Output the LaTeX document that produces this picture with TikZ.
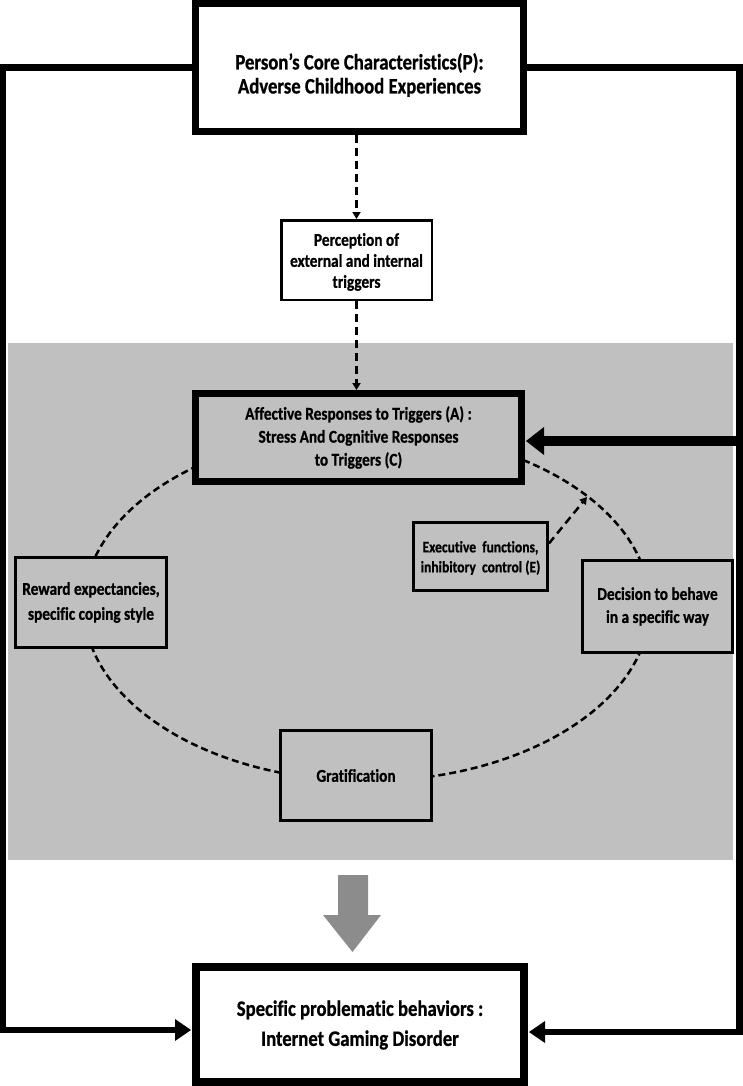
\documentclass[tikz,border=0pt]{standalone}
\usepackage{fontspec}
\newfontfamily\cfont{Carlito}[FakeStretch=0.85, Ligatures=NoCommon, BoldFeatures={FakeBold=0.8}]
\usetikzlibrary{arrows.meta}
\definecolor{bggray}{HTML}{C0C0C0}
\definecolor{arrgray}{HTML}{8C8C8C}
\begin{document}
\begin{tikzpicture}[x=1pt,y=-1pt,
  thickbox/.style={draw, line width=7pt, fill=white, inner sep=0pt},
  thinbox/.style={draw, line width=2.8pt, fill=bggray, inner sep=0pt},
  txt/.style={font=\cfont\bfseries, align=center, inner sep=0pt},
  conn/.style={line width=6.5pt, line join=miter},
  dasharrow/.style={line width=2.5pt, dash pattern=on 8pt off 5pt, -{Triangle[length=7pt,width=8pt]}},
  ellline/.style={line width=2.5pt, dash pattern=on 7pt off 4pt}]
\useasboundingbox (0,0) rectangle (742,1086);
% gray background
\fill[bggray] (8,343) rectangle (733,860);
% dashed ellipse
\draw[ellline] (367,606) ellipse [x radius=283pt, y radius=175pt];
% boxes
\node[thickbox, minimum width=328pt, minimum height=128pt] (P) at (359.5,67.5) {};
\node[thickbox, fill=bggray, minimum width=326pt, minimum height=88pt] (A) at (358.5,437.5) {};
\node[thickbox, line width=8pt, minimum width=328pt, minimum height=115pt] (B) at (360,1024.5) {};
\node[thinbox, fill=white, line width=2.5pt, minimum width=150.5pt, minimum height=79.5pt] (Pc) at (356.5,260) {};
\node[thinbox, minimum width=151pt, minimum height=90pt] (R) at (91,602.5) {};
\node[thinbox, minimum width=134pt, minimum height=68pt] (E) at (480.5,556.5) {};
\node[thinbox, minimum width=150pt, minimum height=92pt] (D) at (657.5,606.5) {};
\node[thinbox, minimum width=151pt, minimum height=90pt] (G) at (356,775.5) {};
% texts
\node[txt, font=\cfont\bfseries\fontsize{22}{24}\selectfont] (Pt) at (359.5,75) {Person’s Core Characteristics(P):\\Adverse Childhood Experiences};
\node[txt, font=\cfont\bfseries\fontsize{22}{30}\selectfont] (Bt) at (360,1025) {Specific problematic behaviors :\\Internet Gaming Disorder};
\node[txt, font=\cfont\bfseries\fontsize{18}{23}\selectfont] (At) at (358.5,437.5) {Affective Responses to Triggers (A) :\\Stress And Cognitive Responses\\to Triggers (C)};
\node[txt, font=\cfont\bfseries\fontsize{18}{21}\selectfont] (Pct) at (356.5,262) {Perception of\\external and internal\\triggers};
\node[txt, font=\cfont\bfseries\fontsize{18}{25}\selectfont] (Rt) at (91,602.5) {Reward expectancies,\\specific coping style};
\node[txt, font=\cfont\bfseries\fontsize{16}{20}\selectfont] (Et) at (480.5,558) {Executive\ \ functions,\\inhibitory\ \ control (E)};
\node[txt, font=\cfont\bfseries\fontsize{18}{23}\selectfont] (Dt) at (657.5,606.5) {Decision to behave\\in a specific way};
\node[txt, font=\cfont\bfseries\fontsize{18}{23}\selectfont] (Gt) at (356,775.5) {Gratification};
% dashed arrows
\draw[dasharrow] (Pc.north |- P.south) -- (Pc.north);
\draw[dasharrow] (Pc.south) -- (Pc.south |- A.north);
\coordinate (ep) at (587,497);
\draw[dasharrow] ([yshift=13pt]E.east) -- (ep);
% outer connectors
\coordinate (L1) at (3,67.5);
\coordinate (L2) at (3,1030);
\coordinate (R1) at (739.5,67.5);
\coordinate (R2) at (739.5,1032);
\coordinate (R3) at (739.5,441);
\draw[conn] (P.west) -- (L1) -- (L2) -- ([xshift=-14pt]L2 -| B.west);
\fill ([xshift=-1pt]L2 -| B.west) -- ++(-16,-11) -- ++(0,22) -- cycle;
\draw[conn] (P.east) -- (R1) -- (R2) -- ([xshift=14pt]R2 -| B.east);
\fill ([xshift=1pt]R2 -| B.east) -- ++(16,-11) -- ++(0,22) -- cycle;
\draw[line width=10pt] (R3) -- ([xshift=14pt]R3 -| A.east);
\fill ([xshift=1pt]R3 -| A.east) -- ++(18,-14) -- ++(0,28) -- cycle;
% big gray arrow
\fill[arrgray] (338,875) -- (368,875) -- (368,915) -- (381,915) -- (352.5,952) -- (323,915) -- (338,915) -- cycle;
\end{tikzpicture}
\end{document}
